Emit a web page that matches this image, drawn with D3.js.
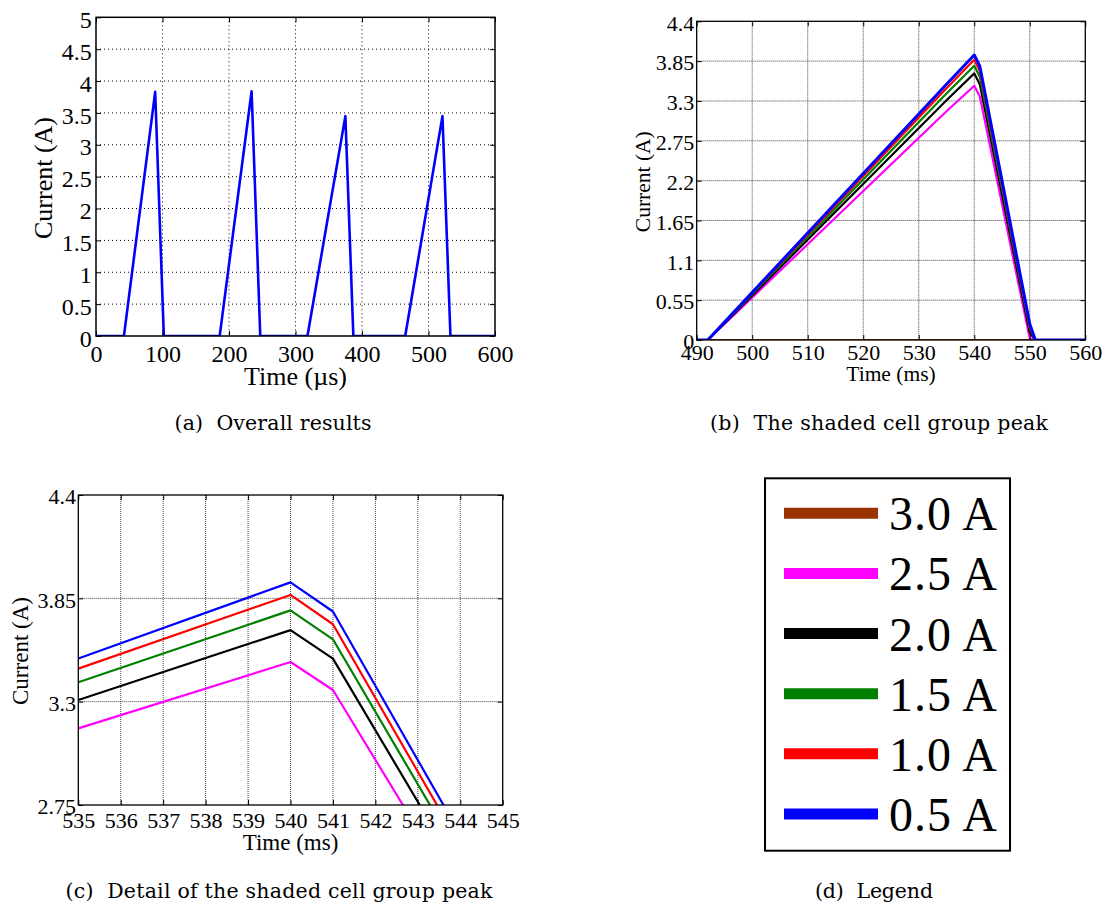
<!DOCTYPE html>
<html><head><meta charset="utf-8">
<script src="https://cdn.jsdelivr.net/npm/d3@7"></script>
<style>body{margin:0;background:#fff} svg{display:block}</style>
</head><body>
<svg id="chart" width="1106" height="908"></svg>
<script>
// ---- Panel (a) data: overall results ----
const timeA    = [0, 42, 89, 102, 186, 234, 247, 318, 375, 387, 465, 521, 533, 600];
const currentA = [0, 0, 3.83, 0, 0, 3.84, 0, 0, 3.45, 0, 0, 3.45, 0, 0];

// ---- Panels (b),(c) data: shaded cell group peak ----
const timeB   = [490, 492, 535, 540, 541, 550, 551, 560];
const cur30A  = [0, 0, 0,     0,     0,     0,    0, 0];
const cur25A  = [0, 0, 3.158, 3.511, 3.362, 0.02, 0, 0];
const cur20A  = [0, 0, 3.309, 3.681, 3.529, 0.10, 0, 0];
const cur15A  = [0, 0, 3.403, 3.786, 3.632, 0.16, 0, 0];
const cur10A  = [0, 0, 3.476, 3.868, 3.712, 0.18, 0, 0];
const cur05A  = [0, 0, 3.530, 3.935, 3.780, 0.22, 0, 0];
const seriesLabels = ["3.0 A", "2.5 A", "2.0 A", "1.5 A", "1.0 A", "0.5 A"];
const seriesColors = ["#993300", "#ff00ff", "#000000", "#008000", "#ff0000", "#0000ff"];

// ---- ticks ----
const ticksAx = [0, 100, 200, 300, 400, 500, 600];
const ticksAy = [0, 0.5, 1, 1.5, 2, 2.5, 3, 3.5, 4, 4.5, 5];
const labelsAy = ["0", "0.5", "1", "1.5", "2", "2.5", "3", "3.5", "4", "4.5", "5"];
const ticksBx = [490, 500, 510, 520, 530, 540, 550, 560];
const ticksBy = [0, 0.55, 1.1, 1.65, 2.2, 2.75, 3.3, 3.85, 4.4];
const labelsBy = ["0", "0.55", "1.1", "1.65", "2.2", "2.75", "3.3", "3.85", "4.4"];
const ticksCx = [535, 536, 537, 538, 539, 540, 541, 542, 543, 544, 545];
const ticksCy = [2.75, 3.3, 3.85, 4.4];
const labelsCy = ["2.75", "3.3", "3.85", "4.4"];

const captions = ["(a)  Overall results", "(b)  The shaded cell group peak",
                  "(c)  Detail of the shaded cell group peak", "(d)  Legend"];

const svg = d3.select("#chart");
const SERIF = "'Liberation Serif','Times New Roman',serif";
const allSeries = [cur30A, cur25A, cur20A, cur15A, cur10A, cur05A];

function panel(o, id) {
  const x = d3.scaleLinear().domain(o.xDomain).range([o.x0, o.x1]);
  const y = d3.scaleLinear().domain(o.yDomain).range([o.y1, o.y0]);
  const g = svg.append("g");
  const clipId = "clip" + id;
  svg.append("clipPath").attr("id", clipId).append("rect")
    .attr("x", o.x0).attr("y", o.y0).attr("width", o.x1 - o.x0).attr("height", o.y1 - o.y0);

  // grid
  const grid = g.append("g").attr("stroke", o.gridColor).attr("stroke-width", 1)
    .attr("stroke-dasharray", o.gridDash);
  o.xTicks.forEach(t => { if (t !== o.xDomain[0] && t !== o.xDomain[1])
    grid.append("line").attr("x1", x(t)).attr("x2", x(t)).attr("y1", o.y0).attr("y2", o.y1); });
  o.yTicks.forEach(t => { if (t !== o.yDomain[0] && t !== o.yDomain[1])
    grid.append("line").attr("y1", y(t)).attr("y2", y(t)).attr("x1", o.x0).attr("x2", o.x1); });

  // lines
  const line = d3.line().x(d => x(d[0])).y(d => y(d[1]));
  const lg = g.append("g").attr("clip-path", `url(#${clipId})`);
  o.series.forEach(s => {
    lg.append("path").datum(s.xs.map((v, i) => [v, s.ys[i]]))
      .attr("d", line).attr("fill", "none").attr("stroke", s.color)
      .attr("stroke-width", s.width).attr("stroke-linejoin", "round");
  });

  // axes
  const fmtX = d => String(d);
  const yLab = d => o.yLabels[o.yTicks.indexOf(d)];
  const axB = g.append("g").attr("transform", `translate(0,${o.y1})`)
    .call(d3.axisBottom(x).tickValues(o.xTicks).tickFormat(fmtX).tickSize(-5).tickSizeOuter(0).tickPadding(o.xPad));
  const axL = g.append("g").attr("transform", `translate(${o.x0},0)`)
    .call(d3.axisLeft(y).tickValues(o.yTicks).tickFormat(yLab).tickSize(-5).tickSizeOuter(0).tickPadding(o.yPad));
  const axT = g.append("g").attr("transform", `translate(0,${o.y0})`)
    .call(d3.axisTop(x).tickValues(o.xTicks).tickFormat("").tickSize(-5).tickSizeOuter(0));
  const axR = g.append("g").attr("transform", `translate(${o.x1},0)`)
    .call(d3.axisRight(y).tickValues(o.yTicks).tickFormat("").tickSize(-5).tickSizeOuter(0));
  [axB, axL, axT, axR].forEach(a => {
    a.select(".domain").remove();
    a.selectAll("text").attr("font-family", SERIF).attr("font-size", o.tickFont).attr("fill", "#000");
    a.selectAll("line").attr("stroke", "#000");
  });
  axL.selectAll("text").attr("dy", o.yDy);

  g.append("rect").attr("x", o.x0).attr("y", o.y0).attr("width", o.x1 - o.x0).attr("height", o.y1 - o.y0)
    .attr("fill", "none").attr("stroke", "#000").attr("stroke-width", o.boxW);

  g.append("text").attr("x", (o.x0 + o.x1) / 2).attr("y", o.xTitleY).attr("text-anchor", "middle")
    .attr("font-family", SERIF).attr("font-size", o.titleFont).text(o.xTitle);
  g.append("text").attr("transform", `translate(${o.yTitleX},${o.yTitleY}) rotate(-90)`)
    .attr("text-anchor", "middle").attr("font-family", SERIF).attr("font-size", o.titleFont).text(o.yTitle);
}

panel({
  x0: 96, x1: 495, y0: 17.3, y1: 336, xDomain: [0, 600], yDomain: [0, 5],
  xTicks: ticksAx, yTicks: ticksAy, yLabels: labelsAy, tickFont: 24, xPad: 8.5, yPad: 4.3, yDy: "0.42em",
  gridDash: "1,3", gridColor: "#000", boxW: 1.5,
  xTitle: "Time (µs)", xTitleY: 385, yTitle: "Current (A)", yTitleX: 52, yTitleY: 178, titleFont: 26,
  series: [{ xs: timeA, ys: currentA, color: "#0000ff", width: 2.6 }]
}, "a");

panel({
  x0: 696.7, x1: 1085.3, y0: 21.3, y1: 340, xDomain: [490, 560], yDomain: [0, 4.4],
  xTicks: ticksBx, yTicks: ticksBy, yLabels: labelsBy, tickFont: 22, xPad: 4.4, yPad: 2.4, yDy: "0.4em",
  gridDash: "1,1", gridColor: "#444", boxW: 1.3,
  xTitle: "Time (ms)", xTitleY: 381, yTitle: "Current (A)", yTitleX: 650, yTitleY: 181.7, titleFont: 21.5,
  series: allSeries.map((ys, i) => ({ xs: timeB, ys: ys, color: seriesColors[i], width: i === 5 ? 3 : 2.2 }))
}, "b");

panel({
  x0: 78.3, x1: 502.7, y0: 495, y1: 805, xDomain: [535, 545], yDomain: [2.75, 4.4],
  xTicks: ticksCx, yTicks: ticksCy, yLabels: labelsCy, tickFont: 22, xPad: 7.5, yPad: 2.3, yDy: "0.4em",
  gridDash: "1,1", gridColor: "#444", boxW: 1.3,
  xTitle: "Time (ms)", xTitleY: 850, yTitle: "Current (A)", yTitleX: 27.5, yTitleY: 651, titleFont: 23,
  series: allSeries.map((ys, i) => ({ xs: timeB, ys: ys, color: seriesColors[i], width: 2.2 }))
}, "c");

// ---- Legend (d) ----
const lgY = d3.scalePoint().domain(seriesLabels).range([513.3, 814]);
const leg = svg.append("g");
leg.append("rect").attr("x", 765).attr("y", 478.3).attr("width", 245).attr("height", 372.4)
  .attr("fill", "#fff").attr("stroke", "#000").attr("stroke-width", 2);
seriesLabels.forEach((lab, i) => {
  leg.append("line").attr("x1", 784).attr("x2", 878).attr("y1", lgY(lab)).attr("y2", lgY(lab))
    .attr("stroke", seriesColors[i]).attr("stroke-width", 11);
  leg.append("text").attr("x", 889).attr("y", lgY(lab) + 17).attr("font-family", SERIF)
    .attr("font-size", 48).attr("textLength", 108).attr("lengthAdjust", "spacing")
    .style("white-space", "pre").text(lab);
});

// ---- captions ----
const CAP = "'DejaVu Serif',serif";
const capPos = [[273, 430, 197], [879, 430, 338], [279, 898, 427], [874, 898, 118]];
captions.forEach((c, i) => {
  svg.append("text").attr("x", capPos[i][0]).attr("y", capPos[i][1]).attr("text-anchor", "middle")
    .attr("font-family", CAP).attr("font-size", 20.5).attr("textLength", capPos[i][2])
    .attr("lengthAdjust", "spacing").style("white-space", "pre").text(c);
});
</script>
</body></html>
